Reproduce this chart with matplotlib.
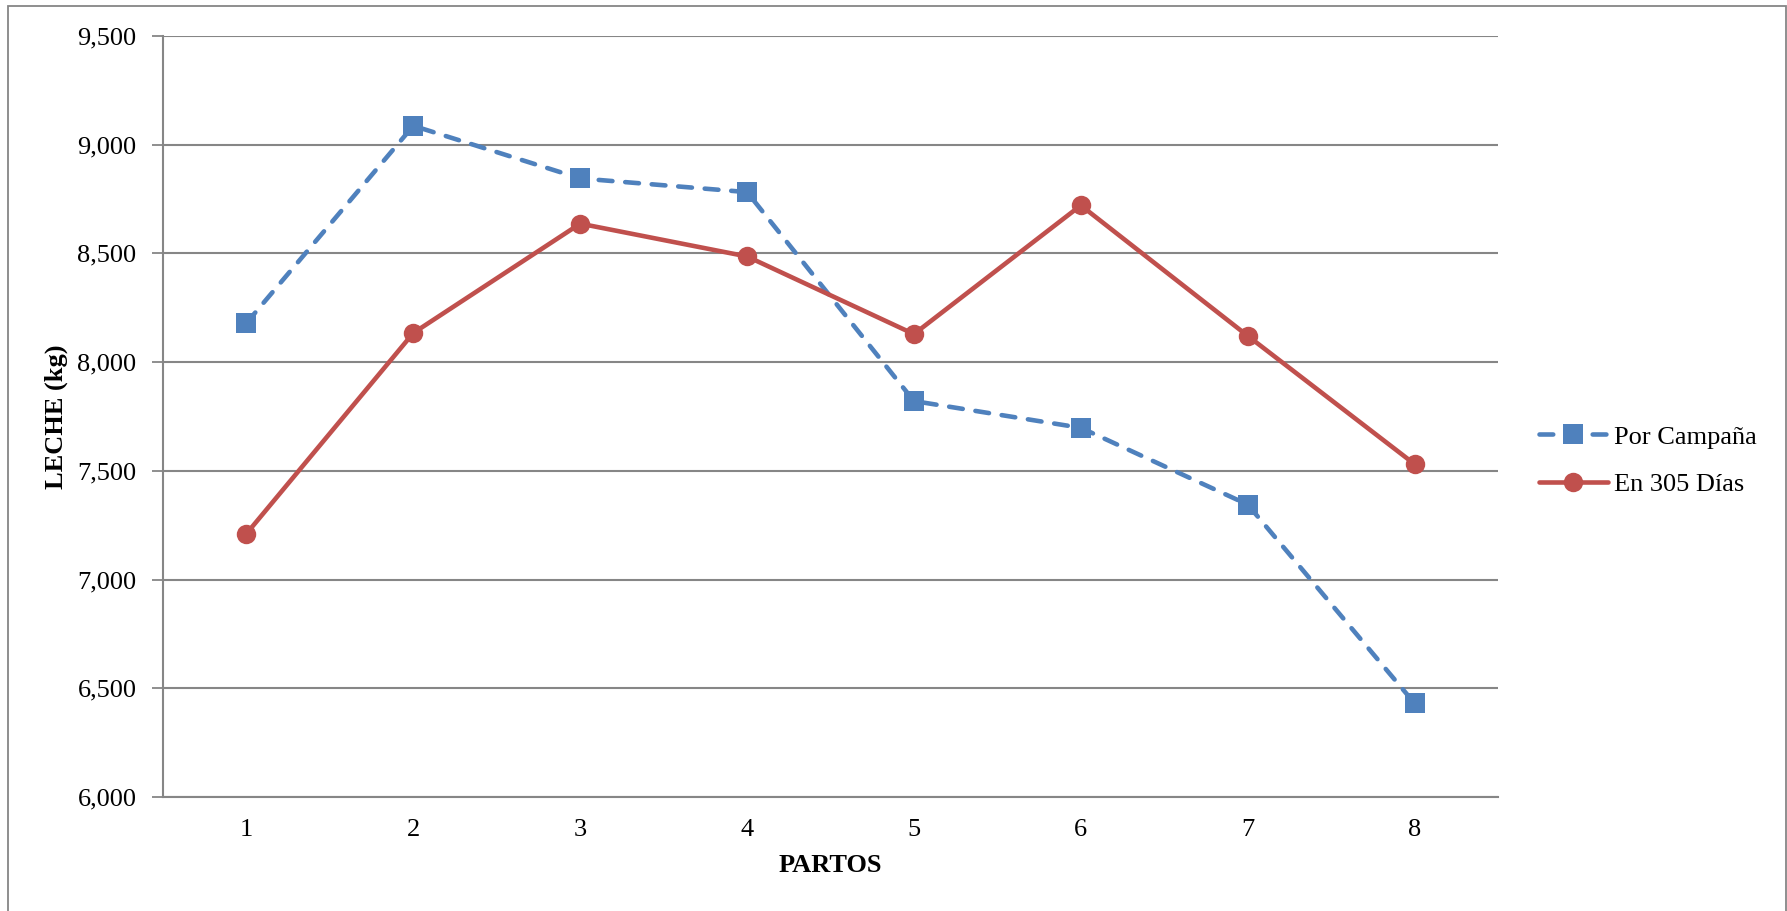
import matplotlib
matplotlib.use("Agg")
import matplotlib.pyplot as plt
from matplotlib.patches import Rectangle

# ---- data ----
partos = [1, 2, 3, 4, 5, 6, 7, 8]
por_campana = [8180, 9087, 8845, 8782, 7821, 7698, 7345, 6431]
en_305_dias = [7211, 8134, 8637, 8486, 8129, 8721, 8121, 7531]
series_labels = ["Por Campaña", "En 305 Días"]
y_ticks = [6000, 6500, 7000, 7500, 8000, 8500, 9000, 9500]
y_tick_labels = ["6,000", "6,500", "7,000", "7,500", "8,000", "8,500", "9,000", "9,500"]
x_label = "PARTOS"
y_label = "LECHE (kg)"

plt.rcParams['font.family'] = ['Liberation Serif', 'DejaVu Serif']
FS = 19
GRID = '#868686'
BLUE = '#4F81BD'
RED = '#C0504D'

W, H = 1787, 911
fig = plt.figure(figsize=(W / 100, H / 100), dpi=100)
ax = fig.add_axes([163 / W, 1 - 797 / H, (1498 - 163) / W, (797 - 36) / H])

xpos = list(range(len(partos)))
ax.plot(xpos, por_campana, color=BLUE, lw=3.3, linestyle=(0, (3.0, 2.8)),
        dash_capstyle='round', marker='s', markersize=14.5, markeredgewidth=0,
        label=series_labels[0], zorder=3)
ax.plot(xpos, en_305_dias, color=RED, lw=3.3, solid_capstyle='round',
        marker='o', markersize=14, markeredgewidth=0,
        label=series_labels[1], zorder=3)

ax.set_xlim(-0.5, len(partos) - 0.5)
ax.set_ylim(6000, 9500)
ax.set_xticks(xpos)
ax.set_xticklabels([str(p) for p in partos], fontsize=FS)
ax.set_yticks(y_ticks)
ax.set_yticklabels(y_tick_labels, fontsize=FS)
ax.tick_params(axis='x', length=0, pad=16)
ax.tick_params(axis='y', length=8, width=1.3, color=GRID, pad=11)

ax.grid(axis='y', color=GRID, lw=1.5)
ax.set_axisbelow(True)
for s in ['top', 'right']:
    ax.spines[s].set_visible(False)
for s in ['left', 'bottom']:
    ax.spines[s].set_color(GRID)
    ax.spines[s].set_linewidth(1.5)

ax.set_xlabel(x_label, fontsize=FS, fontweight='bold', labelpad=9)
ax.set_ylabel(y_label, fontsize=FS, fontweight='bold', labelpad=7)

leg = fig.legend(loc='center left', bbox_to_anchor=(1539 / W, 1 - 460.5 / H),
                 frameon=False, fontsize=FS, handlelength=2.6,
                 handletextpad=0.25, labelspacing=0.9, borderpad=0,
                 borderaxespad=0)

# outer chart border
fig.patches.append(Rectangle((8 / W, -0.05), (1785.5 - 8) / W, 1.05 - 6 / H,
                             transform=fig.transFigure, fill=False,
                             edgecolor=GRID, lw=1.3))

fig.savefig("out.png", dpi=100)
